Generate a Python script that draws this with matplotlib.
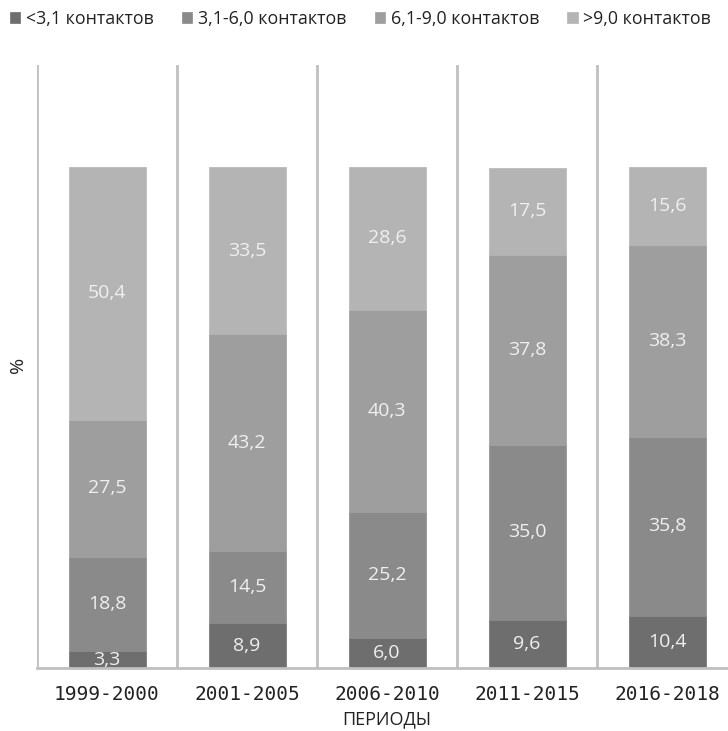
import matplotlib
matplotlib.use("Agg")
import matplotlib.pyplot as plt
import numpy as np

periods = ["1999-2000", "2001-2005", "2006-2010", "2011-2015", "2016-2018"]
series_names = ["<3,1 контактов", "3,1-6,0 контактов", "6,1-9,0 контактов", ">9,0 контактов"]
lt_3_1 = [3.3, 8.9, 6.0, 9.6, 10.4]
from_3_1_to_6_0 = [18.8, 14.5, 25.2, 35.0, 35.8]
from_6_1_to_9_0 = [27.5, 43.2, 40.3, 37.8, 38.3]
gt_9_0 = [50.4, 33.5, 28.6, 17.5, 15.6]

series = [lt_3_1, from_3_1_to_6_0, from_6_1_to_9_0, gt_9_0]
colors = ["#6e6e6e", "#8a8a8a", "#9e9e9e", "#b4b4b4"]

plt.rcParams["font.family"] = ["Open Sans", "DejaVu Sans"]

fig = plt.figure(figsize=(7.28, 7.31), dpi=100)
ax = fig.add_axes([37 / 728, 1 - 668 / 731, 700 / 728, (668 - 65) / 731])

x = np.arange(len(periods))
bottom = np.zeros(len(periods))
for vals, name, col in zip(series, series_names, colors):
    vals = np.array(vals)
    ax.bar(x, vals, width=0.55, bottom=bottom, color=col, label=name,
           edgecolor=col, linewidth=0.5, zorder=2)
    for xi, b, v in zip(x, bottom, vals):
        ax.text(xi, b + v / 2, f"{v:.1f}".replace(".", ","), ha="center", va="center",
                color="#f0f0f0", fontsize=14, zorder=3)
    bottom += vals

ax.set_xlim(-0.5, len(periods) - 0.5)
ax.set_ylim(0, 120.4)

# vertical separators between periods
for xs in np.arange(-0.5, len(periods) + 0.5, 1.0):
    ax.axvline(xs, color="#c0c0c0", linewidth=2, zorder=1)

for s in ["top", "right", "left"]:
    ax.spines[s].set_visible(False)
ax.spines["bottom"].set_color("#c0c0c0")
ax.spines["bottom"].set_linewidth(2)

ax.set_yticks([])
ax.set_xticks(x)
ax.set_xticklabels(periods, family="DejaVu Sans Mono", fontsize=14, color="#222222")
ax.tick_params(axis="x", length=0, pad=12)

ax.set_xlabel("ПЕРИОДЫ", fontsize=13, color="#222222", labelpad=5)
fig.text(18 / 728, 1 - 365 / 731, "%", rotation=90, ha="center", va="center",
         fontsize=14, color="#222222")

fig.legend(loc="center", bbox_to_anchor=(0.495, 1 - 19 / 731), ncol=4, frameon=False,
           handlelength=0.6, handleheight=0.6, handletextpad=0.3, columnspacing=1.6,
           fontsize=12.8, labelcolor="#222222")

fig.savefig("out.png", dpi=100)
